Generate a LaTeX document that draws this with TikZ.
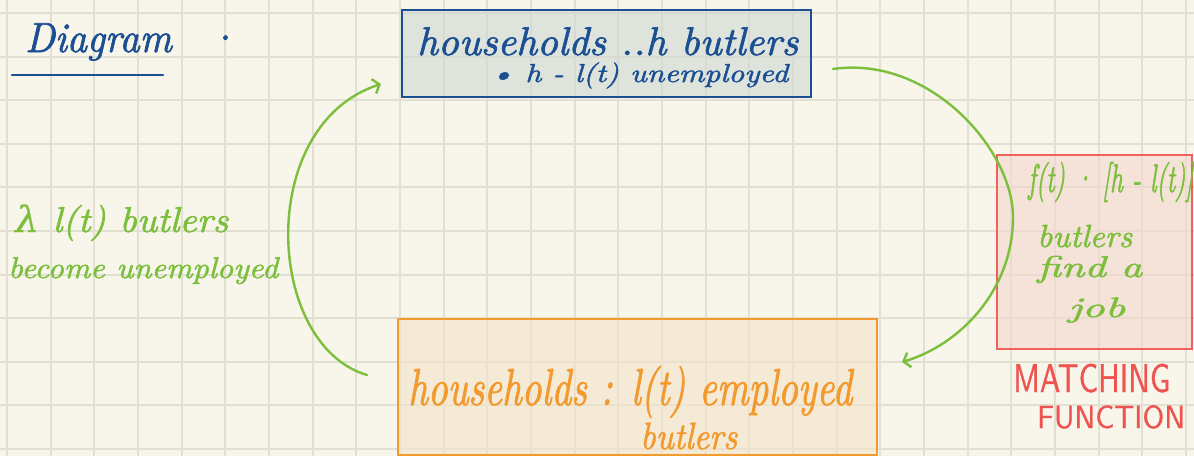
\documentclass[tikz,border=0pt]{standalone}
\usepackage{fontspec}
\usepackage{graphicx}
\usetikzlibrary{arrows.meta}
% pen-like lettering: Latin Modern italic, slightly thickened
\newfontfamily\penfont{lmroman10-regular.otf}[ItalicFont=lmroman10-italic.otf, FakeBold=1.6]
\newfontfamily\pencaps{lmsans10-regular.otf}[FakeBold=0.8]
\newfontfamily\greekfont{DejaVu Serif}[FakeBold=0.5]

\definecolor{paper}{HTML}{F8F5EA}
\definecolor{gridline}{HTML}{E2DFD3}
\definecolor{inkblue}{HTML}{1B4F94}
\definecolor{inkgreen}{HTML}{7BBF3C}
\definecolor{inkorange}{HTML}{F29A2E}
\definecolor{inkred}{HTML}{EF5350}
\definecolor{bluefill}{HTML}{CED7D4}
\definecolor{orangefill}{HTML}{F3E3C9}
\definecolor{redfill}{HTML}{F3D7CF}

% stretch a line of text to a given width, keeping its height
\newcommand\fitwidth[2]{\resizebox{#1}{\height}{#2}}

\begin{document}
\begin{tikzpicture}[x=1pt,y=-1pt,
  hand/.style={inner sep=0pt, anchor=base west},
  handfont/.style={font=\fontsize{#1}{#1}\selectfont\penfont\itshape},
  capsfont/.style={font=\fontsize{#1}{#1}\selectfont\pencaps},
  box/.style={rectangle, inner sep=0pt, line width=2.6pt},
  flow/.style={draw=inkgreen, line width=2.4pt, line cap=round,
               -{Straight Barb[length=6pt,width=15pt]}},
]
% paper with square grid
\useasboundingbox (0,0) rectangle (1194,456);
\fill[paper] (0,0) rectangle (1194,456);
\foreach \i in {0,...,27}
  \draw[gridline, line width=2pt] ({7+43.66*\i},0) -- ({7+43.66*\i},456);
\foreach \j in {0,...,10}
  \draw[gridline, line width=2pt] (0,{13+43.6*\j}) -- (1194,{13+43.6*\j});

% title
\node[hand, handfont=42, text=inkblue] (title) at (25,52)
  {\fitwidth{212pt}{Diagram\hspace{0.9em}·}};
\draw[inkblue, line width=2.6pt, line cap=round] (12,75) -- (163,75);

% boxes
\node[box, draw=inkblue, fill=bluefill, fill opacity=0.6, draw opacity=1,
      minimum width=409pt, minimum height=87pt] (stock) at (606.5,53.5) {};
\node[box, draw=inkorange, fill=orangefill, fill opacity=0.6,
      minimum width=479pt, minimum height=136pt] (employed) at (637.5,387) {};
\node[box, draw=inkred, draw opacity=0.9, fill=redfill, fill opacity=0.6,
      minimum width=195pt, minimum height=194pt] (matching) at (1094.5,252) {};

% unemployed households
\node[hand, handfont=40, text=inkblue] (stockA) at (417,55)
  {\fitwidth{381pt}{households ..h butlers}};
\node[hand, handfont=26, text=inkblue] (stockB) at (490,82)
  {\fitwidth{298pt}{\textbullet\ h - l(t) unemployed}};

% separations
\node[hand, handfont=36, text=inkgreen] (sepA) at (15,232)
  {\fitwidth{213pt}{{\greekfont\itshape λ} l(t) butlers}};
\node[hand, handfont=30, text=inkgreen] (sepB) at (8,278)
  {\fitwidth{270pt}{become unemployed}};

% employed households
\node[hand, handfont=52, text=inkorange] (empA) at (408,405)
  {\fitwidth{444pt}{households : l(t) employed}};
\node[hand, handfont=38, text=inkorange] (empB) at (640,449)
  {\fitwidth{97pt}{butlers}};

% job finding
\node[hand, handfont=40, text=inkgreen] (findA) at (1028,192)
  {\fitwidth{165pt}{f(t) · [h - l(t)]}};
\node[hand, handfont=32, text=inkgreen] (findB) at (1037,247)
  {\fitwidth{95pt}{butlers}};
\node[hand, handfont=30, text=inkgreen] (findC) at (1037,277)
  {\fitwidth{105pt}{find a}};
\node[hand, handfont=28, text=inkgreen] (findD) at (1068,317)
  {\fitwidth{57pt}{job}};

% matching function label
\node[hand, capsfont=40, text=inkred] (mfA) at (1013,392)
  {\fitwidth{157pt}{MATCHING}};
\node[hand, capsfont=32, text=inkred] (mfB) at (1037,428)
  {\fitwidth{148pt}{FUNCTION}};

% flows between the two stocks
\coordinate (sepStart) at (367,375);
\coordinate (sepEnd) at (381,84);
\draw[flow] (sepStart) .. controls (265,345) and (255,125) .. (sepEnd);

\coordinate (findStart) at (833,69);
\coordinate (findEnd) at (902,362);
\draw[flow] (findStart) .. controls (930,55) and (1013,150) .. (1013,217)
  .. controls (1013,290) and (960,345) .. (findEnd);
\end{tikzpicture}
\end{document}
